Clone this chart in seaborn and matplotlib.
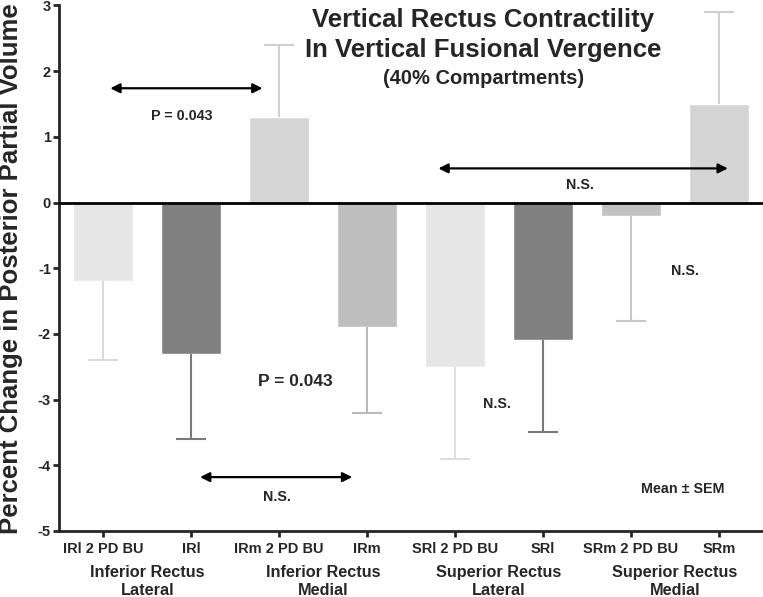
import numpy as np
import pandas as pd
import matplotlib
matplotlib.use("Agg")
import matplotlib.pyplot as plt
import matplotlib.transforms as mtransforms
import seaborn as sns

# bar data (mean, one sided SEM)
categories = ["IRl 2 PD BU", "IRl", "IRm 2 PD BU", "IRm",
              "SRl 2 PD BU", "SRl", "SRm 2 PD BU", "SRm"]
means = [-1.2, -2.3, 1.3, -1.9, -2.5, -2.1, -0.2, 1.5]
sems = [1.2, 1.3, 1.1, 1.3, 1.4, 1.4, 1.6, 1.4]
bar_colors = ["#e6e6e6", "#808080", "#d6d6d6", "#bebebe",
              "#e6e6e6", "#808080", "#c2c2c2", "#d4d4d4"]
err_colors = ["#dadada", "#7a7a7a", "#d0d0d0", "#bababa",
              "#dedede", "#7a7a7a", "#c8c8c8", "#d0d0d0"]
group_labels = ["Inferior Rectus\nLateral", "Inferior Rectus\nMedial",
                "Superior Rectus\nLateral", "Superior Rectus\nMedial"]

df = pd.DataFrame({"cat": categories, "mean": means})

sns.set_style("ticks")
plt.rcParams['font.family'] = ['Liberation Sans', 'DejaVu Sans']
plt.rcParams['axes.unicode_minus'] = False

fig = plt.figure(figsize=(7.63, 5.97), dpi=100)
ax = fig.add_axes([0.0777, 0.1106, 0.9223, 0.8802])

sns.barplot(data=df, x="cat", y="mean", hue="cat", palette=bar_colors,
            saturation=1, width=0.68, legend=False, ax=ax, errorbar=None)

# one sided error bars, away from zero (stem + outer cap only)
cap = 0.17
for i, (m, s) in enumerate(zip(means, sems)):
    end = m - s if m < 0 else m + s
    ax.vlines(i, m, end, color=err_colors[i], lw=1.5, zorder=1)
    ax.hlines(end, i - cap, i + cap, color=err_colors[i], lw=1.5, zorder=1)

ax.axhline(0, color="black", lw=2, zorder=3)
ax.set_xlim(-0.5, 7.5)
ax.set_ylim(-5, 3)
ax.set_yticks(range(-5, 4))
sns.despine(ax=ax)
for sp in ("left", "bottom"):
    ax.spines[sp].set_linewidth(2)
ax.tick_params(axis="both", width=2, length=4, labelsize=10.5)
ax.tick_params(axis="y", pad=2)
ax.tick_params(axis="x", pad=4)
for lab in ax.get_xticklabels() + ax.get_yticklabels():
    lab.set_fontweight("bold")
ax.set_xlabel("")
ax.set_ylabel("Percent Change in Posterior Partial Volume", fontsize=18.5,
              fontweight="bold")
ax.yaxis.set_label_coords(-0.051, 0.5)

# group labels under the tick labels
trans = mtransforms.blended_transform_factory(ax.transData, fig.transFigure)
for k, g in enumerate(group_labels):
    ax.text(2 * k + 0.5, 0.026, g, transform=trans, ha="center", va="center",
            fontsize=11.7, fontweight="bold", linespacing=1.2)

# title
ax.text(4.32, 2.55, "Vertical Rectus Contractility\nIn Vertical Fusional Vergence",
        ha="center", va="center", fontsize=18.5, fontweight="bold", linespacing=1.27)
ax.text(4.32, 1.89, "(40% Compartments)", ha="center", va="center",
        fontsize=14.5, fontweight="bold")

# comparison arrows
arrow = dict(arrowstyle="<|-|>", color="black", lw=1.6, mutation_scale=14,
             shrinkA=0, shrinkB=0)
ax.annotate("", xy=(0.08, 1.74), xytext=(1.81, 1.74), arrowprops=arrow)
ax.annotate("", xy=(3.81, 0.52), xytext=(7.10, 0.52), arrowprops=arrow)
ax.annotate("", xy=(1.10, -4.18), xytext=(2.83, -4.18), arrowprops=arrow)

small = dict(ha="center", va="center", fontsize=10.3, fontweight="bold")
ax.text(0.89, 1.31, "P = 0.043", **small)
ax.text(5.42, 0.26, "N.S.", **small)
ax.text(6.61, -1.04, "N.S.", **small)
ax.text(4.48, -3.06, "N.S.", **small)
ax.text(1.98, -4.48, "N.S.", **small)
ax.text(6.59, -4.36, "Mean \u00b1 SEM", **small)
ax.text(2.18, -2.73, "P = 0.043", ha="center", va="center", fontsize=12.5,
        fontweight="bold")

fig.savefig("out.png", dpi=100)
